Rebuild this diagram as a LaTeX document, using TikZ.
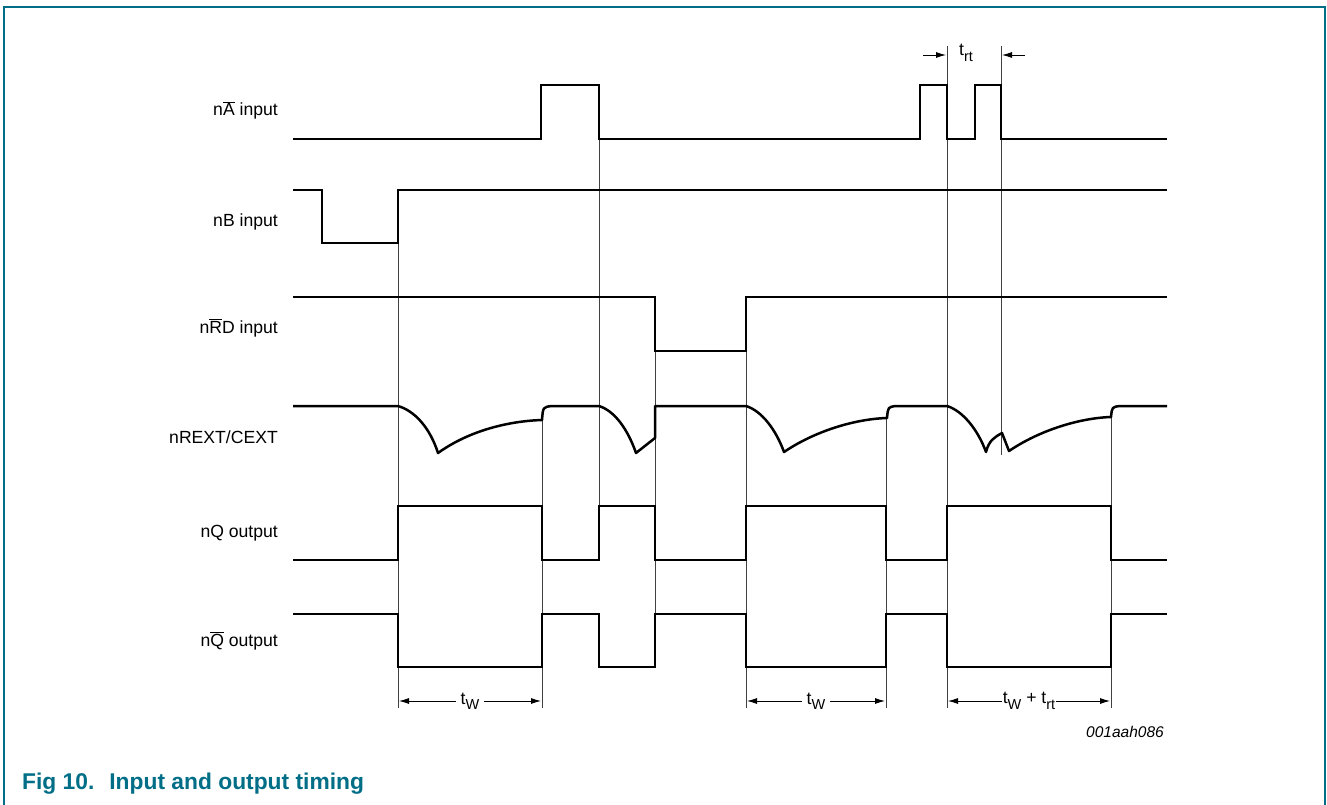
\documentclass[tikz,border=0pt]{standalone}
\usepackage{fontspec}
\setmainfont{Liberation Sans}
\usetikzlibrary{arrows.meta}
\definecolor{nxpteal}{RGB}{0,110,135}
\newcommand\ovl[1]{$\overline{\mbox{#1}}$}
\newcommand\subtx[1]{\raisebox{-0.3em}{\fontsize{14.5}{16}\selectfont #1}}
\begin{document}
\begin{tikzpicture}[x=1pt,y=-1pt,
  wave/.style={line width=2.5pt, line join=miter},
  guide/.style={line width=0.9pt, black!75},
  lab/.style={font=\fontsize{17.6}{20}\selectfont, anchor=base east, inner sep=0pt},
  dimlab/.style={font=\fontsize{17.6}{20}\selectfont, inner sep=5pt},
  dimarr/.style={line width=0.9pt, -{Latex[length=10pt,width=6pt]}}]
\useasboundingbox (0,0) rectangle (1327,805);
% frame
\draw[nxpteal, line width=1.6pt] (4,805) -- (4,7) -- (1325,7) -- (1325,805);
% guide lines
\draw[guide] (398,243) -- (398,708);
\draw[guide] (542,420) -- (542,708);
\draw[guide] (599,139) -- (599,506);
\draw[guide] (655,351) -- (655,614);
\draw[guide] (746,351) -- (746,708);
\draw[guide] (886,418) -- (886,708);
\draw[guide] (947,46) -- (947,708);
\draw[guide] (1001,46) -- (1001,455);
\draw[guide] (1111,417) -- (1111,708);
% waveforms
\draw[wave] (293,139) -- (541,139) -- (541,85) -- (599,85) -- (599,139) -- (920,139) -- (920,85) -- (947,85) -- (947,139) -- (975,139) -- (975,85) -- (1001,85) -- (1001,139) -- (1167,139);
\draw[wave] (293,190) -- (322,190) -- (322,243) -- (398,243) -- (398,190) -- (1167,190);
\draw[wave] (293,297) -- (655,297) -- (655,351) -- (746,351) -- (746,297) -- (1167,297);
\draw[wave, line join=round] (293,406) -- (398,406)
  .. controls (415,411) and (430,428) .. (438,453)
  .. controls (470,430) and (510,421) .. (542,420)
  .. controls (543,407) .. (552,406) -- (599,406)
  .. controls (615,411) and (628,430) .. (636,453)
  -- (655,438) -- (655,406) -- (746,406)
  .. controls (762,411) and (776,430) .. (784,452)
  .. controls (815,431) and (855,419) .. (887,418)
  .. controls (888,407) .. (896,406) -- (947,406)
  .. controls (963,411) and (978,430) .. (986,452)
  .. controls (989,440) and (995,437) .. (1002,433)
  -- (1009,451)
  .. controls (1040,430) and (1080,418) .. (1111,417)
  .. controls (1112,407) .. (1120,406) -- (1167,406);
\draw[wave] (293,560) -- (398,560) -- (398,506) -- (542,506) -- (542,560) -- (599,560) -- (599,506) -- (655,506) -- (655,560) -- (746,560) -- (746,506) -- (886,506) -- (886,560) -- (947,560) -- (947,506) -- (1111,506) -- (1111,560) -- (1167,560);
\draw[wave] (293,614) -- (398,614) -- (398,667) -- (542,667) -- (542,614) -- (599,614) -- (599,667) -- (655,667) -- (655,614) -- (746,614) -- (746,667) -- (886,667) -- (886,614) -- (947,614) -- (947,667) -- (1111,667) -- (1111,614) -- (1167,614);
% labels
\node[lab] (la) at (278,116) {n\ovl{A} input};
\node[lab] (lb) at (278,226) {nB input};
\node[lab] (lrd) at (278,333) {n\ovl{R}D input};
\node[lab] (lrc) at (278,443) {nREXT/CEXT};
\node[lab] (lq) at (278,537) {nQ output};
\node[lab] (lqb) at (278,646) {n\ovl{Q} output};
% t_rt
\node[dimlab] (trt) at (966,53) {t\subtx{rt}};
\coordinate (rtl0) at (923,55); \coordinate (rtl1) at (946,55);
\coordinate (rtr0) at (1025,55); \coordinate (rtr1) at (1002,55);
\draw[dimarr] (rtl0) -- (rtl1);
\draw[dimarr] (rtr0) -- (rtr1);
% bottom dimensions
\coordinate (d1a) at (399,701); \coordinate (d1b) at (541,701);
\coordinate (d2a) at (747,701); \coordinate (d2b) at (885,701);
\coordinate (d3a) at (948,701); \coordinate (d3b) at (1110,701);
\node[dimlab] (tw1) at (470,701) {t\subtx{W}};
\node[dimlab] (tw2) at (816,701) {t\subtx{W}};
\node[dimlab, inner sep=1pt] (tw3) at (1029,701) {t\subtx{W} + t\subtx{rt}};
\draw[dimarr] (tw1.west) -- (d1a);
\draw[dimarr] (tw1.east) -- (d1b);
\draw[dimarr] (tw2.west) -- (d2a);
\draw[dimarr] (tw2.east) -- (d2b);
\draw[dimarr] (tw3.west) -- (d3a);
\draw[dimarr] (tw3.east) -- (d3b);
% code and caption
\node[anchor=base east, inner sep=0pt, font=\fontsize{15.5}{18}\selectfont\itshape] (code) at (1164,737) {001aah086};
\node[anchor=base west, inner sep=0pt, text=nxpteal, font=\fontsize{22.8}{26}\selectfont\bfseries] (cap) at (22,789) {Fig 10.\hspace{15pt}Input and output timing};
\end{tikzpicture}
\end{document}
